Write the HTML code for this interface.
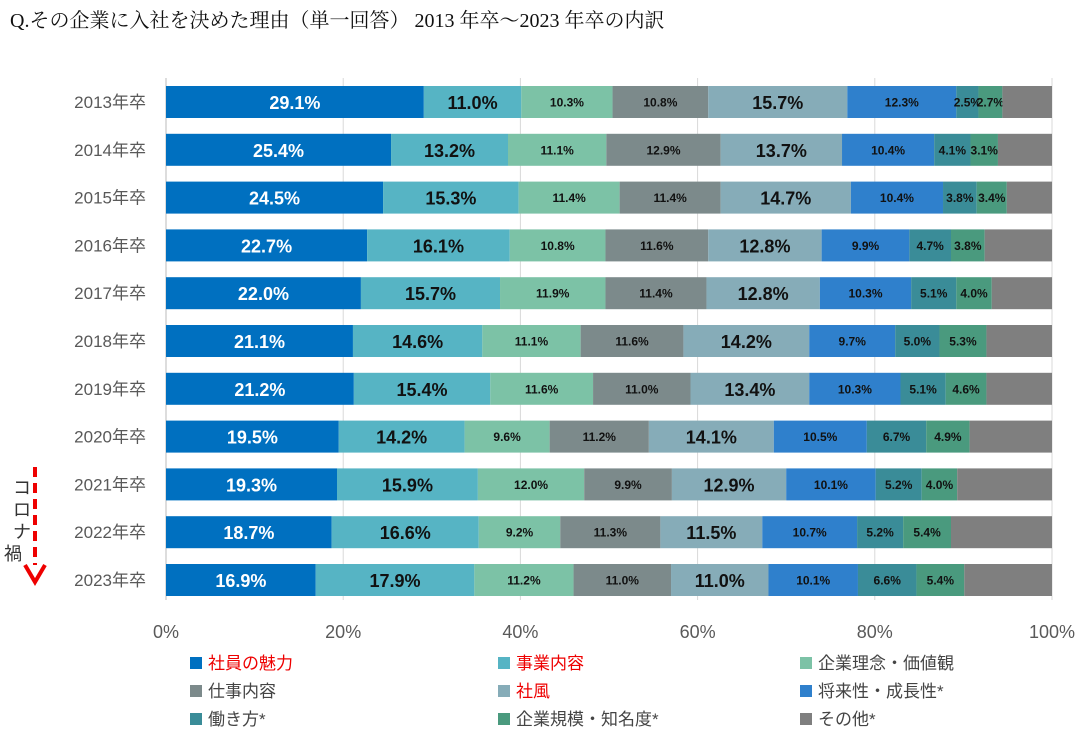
<!DOCTYPE html>
<html><head><meta charset="utf-8"><style>
body{margin:0;background:#fff;width:1086px;height:741px;overflow:hidden;font-family:"Liberation Sans","Noto Sans CJK JP",sans-serif;}
svg text{font-family:"Liberation Sans","Noto Sans CJK JP",sans-serif;}
</style></head><body>
<svg id="c" width="1086" height="741">
<text x="10" y="27" font-size="20" fill="#111" style="font-family:'Liberation Serif','Noto Serif CJK SC',serif">Q.その企業に入社を決めた理由（単一回答） 2013 年卒～2023 年卒の内訳</text>
<g id="grid"></g><g id="bars"></g><g id="axis"></g><g id="legend"></g>
<g>
<line x1="35" y1="467" x2="35" y2="565" stroke="#e00" stroke-width="4" stroke-dasharray="10,6"/>
<path d="M25 565 L35 582 L45 565" fill="none" stroke="#e00" stroke-width="4"/>
<text x="13" y="494" font-size="18" fill="#333">コ</text>
<text x="13" y="516" font-size="18" fill="#333">ロ</text>
<text x="13" y="538" font-size="18" fill="#333">ナ</text>
<text x="4" y="560" font-size="18" fill="#333">禍</text>
</g>
</svg>
<script>
const categories=["2013年卒","2014年卒","2015年卒","2016年卒","2017年卒","2018年卒","2019年卒","2020年卒","2021年卒","2022年卒","2023年卒"];
const seriesNames=["社員の魅力","事業内容","企業理念・価値観","仕事内容","社風","将来性・成長性*","働き方*","企業規模・知名度*","その他*"];
const s1=[29.1,25.4,24.5,22.7,22.0,21.1,21.2,19.5,19.3,18.7,16.9];
const s2=[11.0,13.2,15.3,16.1,15.7,14.6,15.4,14.2,15.9,16.6,17.9];
const s3=[10.3,11.1,11.4,10.8,11.9,11.1,11.6,9.6,12.0,9.2,11.2];
const s4=[10.8,12.9,11.4,11.6,11.4,11.6,11.0,11.2,9.9,11.3,11.0];
const s5=[15.7,13.7,14.7,12.8,12.8,14.2,13.4,14.1,12.9,11.5,11.0];
const s6=[12.3,10.4,10.4,9.9,10.3,9.7,10.3,10.5,10.1,10.7,10.1];
const s7=[2.5,4.1,3.8,4.7,5.1,5.0,5.1,6.7,5.2,5.2,6.6];
const s8=[2.7,3.1,3.4,3.8,4.0,5.3,4.6,4.9,4.0,5.4,5.4];
const ticks=["0%","20%","40%","60%","80%","100%"];
const series=[s1,s2,s3,s4,s5,s6,s7,s8];
const colors=["#0070c0","#56b4c4","#7cc2a6","#7c8a8b","#86acb8","#2f80cc","#3a8c98","#4a9a7e","#7f7f7f"];
const big=[true,true,false,false,true,false,false,false];
const X0=166,X1=1052,Y0=102,DY=47.8,BH=32;
const xs=v=>X0+(X1-X0)*v/100, ys=i=>Y0+DY*i;
const NS="http://www.w3.org/2000/svg";
function mk(t,a,p){const e=document.createElementNS(NS,t);for(const k in a)e.setAttribute(k,a[k]);p.appendChild(e);return e;}
const G=document.getElementById('grid'),B=document.getElementById('bars'),A=document.getElementById('axis'),L=document.getElementById('legend');
ticks.forEach((t,k)=>{const v=k*20;
 const ln=mk('line',{x1:xs(v),x2:xs(v),y1:78,y2:600,stroke:k==0?'#bbb':'#d9d9d9','stroke-width':1},G);
 
 
 const tx=mk('text',{x:xs(v),y:638,'font-size':18,fill:'#595959','text-anchor':'middle'},A);tx.textContent=t;
 
 
});
categories.forEach((c,i)=>{
 const tx=mk('text',{x:146,y:ys(i)+6,'font-size':17,fill:'#595959','text-anchor':'end'},A);tx.textContent=c;
 
 
 let cum=0;
 series.forEach((s,j)=>{const v=s[i];
  const r=mk('rect',{x:xs(cum),y:ys(i)-BH/2,width:xs(cum+v)-xs(cum),height:BH,fill:colors[j]},B);
  
  
  const t=mk('text',{x:(xs(cum)+xs(cum+v))/2,y:ys(i)+(big[j]?7:4.5),'font-size':big[j]?18:12,'font-weight':'bold',fill:j==0?'#fff':'#111','text-anchor':'middle'},B);
  t.textContent=v.toFixed(1)+'%';
  
  
  cum+=v;});
 const r=mk('rect',{x:xs(cum),y:ys(i)-BH/2,width:X1-xs(cum),height:BH,fill:colors[8]},B);
 
 
});
const red=[0,1,4];
seriesNames.forEach((n,j)=>{const col=j%3,row=Math.floor(j/3);const x=[190,498,800][col],y=663+row*28;
 const g=mk('g',{},L);
 
 
 mk('rect',{x:x,y:y-6,width:12,height:12,fill:colors[j]},g);
 const t=mk('text',{x:x+18,y:y+6,'font-size':17,fill:red.includes(j)?'#e00':'#444'},g);t.textContent=n;});
</script>
</body></html>
